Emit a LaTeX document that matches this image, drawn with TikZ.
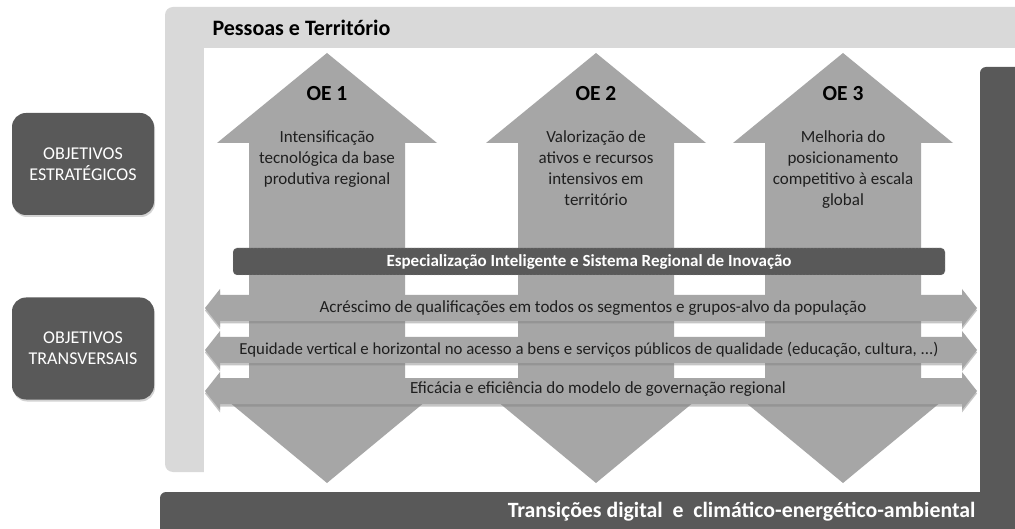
\documentclass[tikz,border=0pt]{standalone}
\usepackage{fontspec}
\setmainfont{Carlito}
\usetikzlibrary{shadows}
\definecolor{frame}{HTML}{D9D9D9}
\definecolor{dark}{HTML}{595959}
\definecolor{arr}{HTML}{A6A6A6}
\definecolor{txt}{HTML}{1F1F1F}
\tikzset{
  sidebox/.style={fill=dark, rounded corners=14pt, minimum width=142pt, minimum height=102pt, text=white, align=center, font=\fontsize{18}{21}\selectfont, drop shadow={opacity=0.35, shadow xshift=1pt, shadow yshift=-2pt}},
  vtext/.style={text=txt, align=center, font=\fontsize{17}{21}\selectfont, anchor=north},
  oetitle/.style={text=black, font=\bfseries\fontsize{21.5}{23}\selectfont},
  htext/.style={text=txt, font=\fontsize{17}{19}\selectfont},
  harrow/.style={fill=arr, drop shadow={opacity=0.45, shadow xshift=0pt, shadow yshift=-2.5pt}},
  varrow/.style={fill=arr},
}
\begin{document}
\begin{tikzpicture}[x=1pt,y=-1pt]
\useasboundingbox (0,0) rectangle (1015,529);
% frame
\fill[frame, rounded corners=8pt] (165,7) rectangle (1040,472);
\fill[white] (204,48) rectangle (1015,492);
\node[anchor=west, text=black, font=\bfseries\fontsize{22}{24}\selectfont] (pt) at (209,28) {Pessoas e Território};
% dark bars
\fill[dark, rounded corners=6pt] (980,67) rectangle (1040,560);
\fill[dark, rounded corners=6pt] (160,492) rectangle (1040,560);
\node[anchor=east, text=white, font=\bfseries\fontsize{21.8}{24}\selectfont] (tr) at (979,512) {Transições digital\ \ e\ \ climático-energético-ambiental};
% vertical double arrows
\foreach \c in {327,596,843}{
  \fill[varrow] (\c,53) -- (\c+110,143) -- (\c+78,143) -- (\c+78,392) -- (\c+110,392) -- (\c,483) -- (\c-110,392) -- (\c-78,392) -- (\c-78,143) -- (\c-110,143) -- cycle;
}
\node[oetitle] (oe1) at (327,94) {OE 1};
\node[oetitle] (oe2) at (596,94) {OE 2};
\node[oetitle] (oe3) at (843,94) {OE 3};
\node[vtext] (t1) at (327,127) {Intensificação\\tecnológica da base\\produtiva regional};
\node[vtext] (t2) at (596,127) {Valorização de\\ativos e recursos\\intensivos em\\território};
\node[vtext] (t3) at (843,127) {Melhoria do\\posicionamento\\competitivo à escala\\global};
% especializacao bar
\node[fill=dark, draw=gray!60, densely dotted, rounded corners=4pt, minimum width=712pt, minimum height=27pt, text=white, font=\bfseries\fontsize{17}{19}\selectfont] (esp) at (589,261.5) {Especialização Inteligente e Sistema Regional de Inovação};
% horizontal double arrows
\foreach \c in {308,350,391}{
  \fill[harrow] (205,\c) -- (220,\c-19) -- (220,\c-13) -- (962,\c-13) -- (962,\c-19) -- (977,\c) -- (962,\c+19) -- (962,\c+13) -- (220,\c+13) -- (220,\c+19) -- cycle;
}
\node[htext] (h1) at (593,308) {Acréscimo de qualificações em todos os segmentos e grupos-alvo da população};
\node[htext, font=\fontsize{16.8}{19}\selectfont] (h2) at (589,350) {Equidade vertical e horizontal no acesso a bens e serviços públicos de qualidade (educação, cultura, ...)};
\node[htext] (h3) at (598,389) {Eficácia e eficiência do modelo de governação regional};
% side boxes
\node[sidebox] (oes) at (83,164) {OBJETIVOS\\ESTRATÉGICOS};
\node[sidebox] (oet) at (83,348.5) {OBJETIVOS\\TRANSVERSAIS};
\end{tikzpicture}
\end{document}
